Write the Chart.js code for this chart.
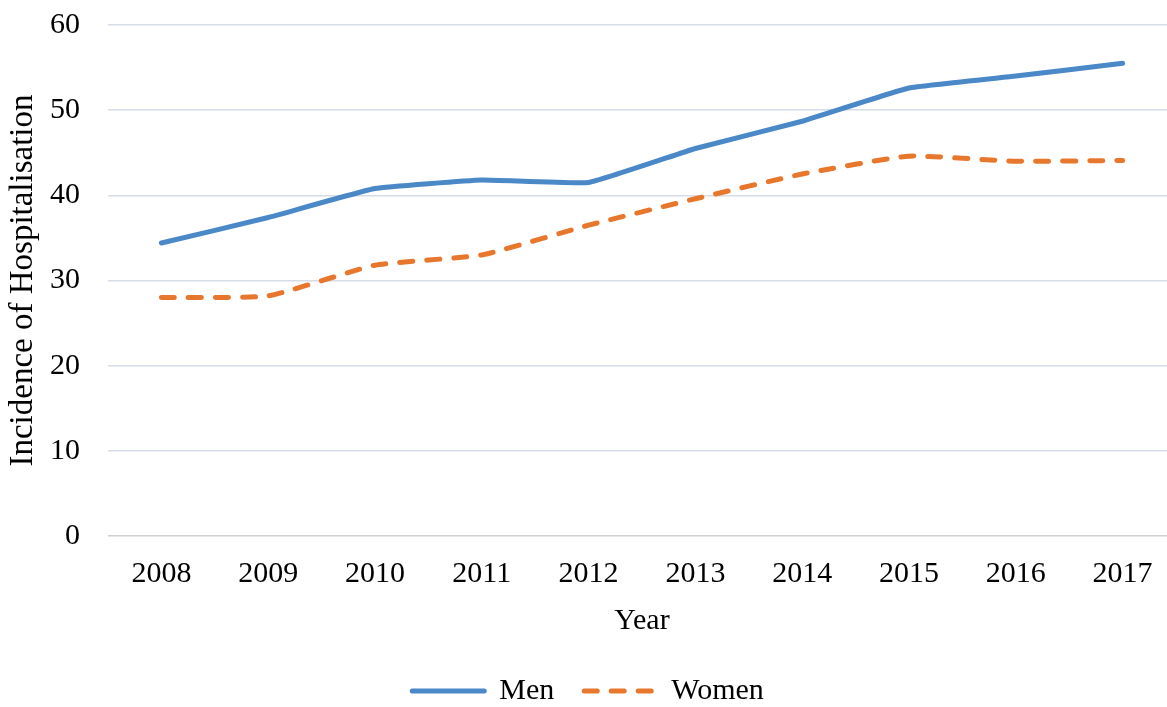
<!DOCTYPE html>
<html>
<head>
<meta charset="utf-8">
<script src="https://cdn.jsdelivr.net/npm/chart.js@4/dist/chart.umd.min.js"></script>
<style>
  html, body { margin: 0; padding: 0; background: #fff; overflow: hidden; }
  #wrap { width: 1176px; height: 707px; }
</style>
</head>
<body>
<div id="wrap"><canvas id="chart"></canvas></div>
<script>
// ── Data ────────────────────────────────────────────
const years = ['2008', '2009', '2010', '2011', '2012', '2013', '2014', '2015', '2016', '2017'];
const men   = [34.4, 37.4, 40.8, 41.8, 41.5, 45.5, 48.7, 52.6, 54.0, 55.5];
const women = [28.0, 28.2, 31.8, 33.0, 36.5, 39.6, 42.5, 44.6, 44.0, 44.1];

const serif = 'Liberation Serif';

const ctx = document.getElementById('chart').getContext('2d');
new Chart(ctx, {
  type: 'line',
  data: {
    labels: years,
    datasets: [
      {
        label: 'Men',
        data: men,
        borderColor: '#4a88c7',
        backgroundColor: '#4a88c7',
        borderWidth: 5,
        borderCapStyle: 'round',
        pointRadius: 0,
        tension: 0.1
      },
      {
        label: 'Women',
        data: women,
        borderColor: '#e8772e',
        backgroundColor: '#e8772e',
        borderWidth: 5,
        borderDash: [13, 14],
        borderCapStyle: 'round',
        pointRadius: 0,
        tension: 0.15
      }
    ]
  },
  options: {
    responsive: true,
    maintainAspectRatio: false,
    animation: false,
    layout: { padding: { top: 25, right: 0, bottom: -9, left: 0 } },
    plugins: {
      legend: {
        position: 'bottom',
        labels: {
          usePointStyle: true,
          pointStyleWidth: 72,
          color: '#000',
          padding: 30,
          font: { family: serif, size: 30 },
          // legend lines take the dataset's own dash and width
          generateLabels: chart => chart.data.datasets.map((ds, i) => ({
            text: ds.label,
            datasetIndex: i,
            fillStyle: ds.borderColor,
            strokeStyle: ds.borderColor,
            lineWidth: ds.borderWidth,
            lineDash: ds.borderDash || [],
            lineCap: 'round',
            pointStyle: 'line',
            fontColor: '#000',
            hidden: false
          }))
        }
      },
      tooltip: { enabled: false }
    },
    scales: {
      x: {
        offset: true,
        grid: { display: false },
        border: { display: false },
        ticks: { color: '#000', padding: 12, font: { family: serif, size: 30 } },
        title: { display: true, text: 'Year', color: '#000', padding: { top: 2, bottom: 10 }, font: { family: serif, size: 30, lineHeight: 1 } }
      },
      y: {
        min: 0,
        max: 60,
        afterFit: s => { s.width = 108; s.paddingTop = 0; s.paddingBottom = 0; },
        ticks: { stepSize: 10, color: '#000', padding: 28, font: { family: serif, size: 30 } },
        grid: {
          drawTicks: false,
          lineWidth: 1.5,
          color: c => c.tick && c.tick.value === 0 ? '#d0d0d0' : '#d6dde8'
        },
        border: { display: false },
        title: { display: true, text: 'Incidence of Hospitalisation', color: '#000', padding: { top: 4, bottom: 0 }, font: { family: serif, size: 33 } }
      }
    }
  }
});
</script>
</body>
</html>
